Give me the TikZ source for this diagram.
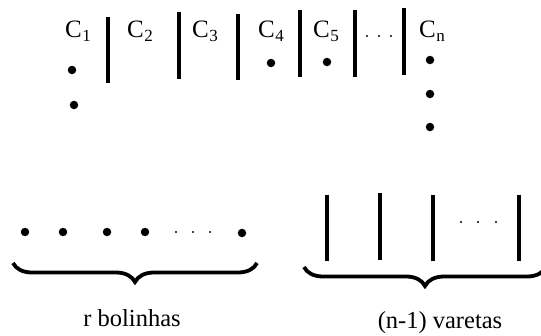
\documentclass[tikz,border=0pt]{standalone}
\usepackage{fontspec}
\setmainfont{Liberation Serif}
\usetikzlibrary{decorations.pathreplacing}
\newcommand{\cell}[1]{C\kern0.8pt\raisebox{-0.35ex}{\fontsize{17}{17}\selectfont #1}}
\tikzset{
  ball/.style={circle, fill=black, inner sep=0pt, minimum size=8.5pt},
  smalldot/.style={circle, fill=black, inner sep=0pt, minimum size=2.4pt},
  bar/.style={line width=4pt},
  lbl/.style={inner sep=0pt, font=\fontsize{25}{25}\selectfont},
  caption/.style={inner sep=0pt, font=\fontsize{24.5}{24.5}\selectfont},
  curly/.style={decorate, decoration={brace, mirror, amplitude=19pt}, line width=3.8pt},
}
\begin{document}
\begin{tikzpicture}[x=1pt, y=-1pt]
\useasboundingbox (0,0) rectangle (541,335);
% top row: cells and separating bars
\node[lbl] (c1) at (78,31) {\cell{1}};
\node[lbl] (c2) at (140,31) {\cell{2}};
\node[lbl] (c3) at (205,31) {\cell{3}};
\node[lbl] (c4) at (271,31) {\cell{4}};
\node[lbl] (c5) at (326,31) {\cell{5}};
\node[lbl] (cn) at (432,31) {\cell{n}};
\draw[bar] (108,17) -- (108,83);
\draw[bar] (179,12) -- (179,79);
\draw[bar] (238,14) -- (238,80);
\draw[bar] (300,10) -- (300,77);
\draw[bar] (355,10) -- (355,77);
\draw[bar] (404,8) -- (404,75);
\node[smalldot] (t1) at (367,36) {};
\node[smalldot] (t2) at (379,36) {};
\node[smalldot] (t3) at (391,36) {};
% balls in the cells
\node[ball] (a1) at (72,70) {};
\node[ball] (a2) at (74,105) {};
\node[ball] (a4) at (271,63) {};
\node[ball] (a5) at (327,62) {};
\node[ball] (an1) at (430,60) {};
\node[ball] (an2) at (430,94) {};
\node[ball] (an3) at (430,127) {};
% bottom left: the r balls
\node[ball] (b1) at (25,232) {};
\node[ball] (b2) at (63,232) {};
\node[ball] (b3) at (107,232) {};
\node[ball] (b4) at (145,232) {};
\node[smalldot] (d1) at (176,232) {};
\node[smalldot] (d2) at (193,232) {};
\node[smalldot] (d3) at (210,232) {};
\node[ball] (b5) at (242,233) {};
\draw[curly] (13,263) -- (257,263);
\node[caption] (rb) at (132,318) {r bolinhas};
% bottom right: the n-1 bars
\draw[bar] (327,195) -- (327,261);
\draw[bar] (380,193) -- (380,260);
\draw[bar] (433,195) -- (433,261);
\draw[bar] (519,195) -- (519,261);
\node[smalldot] (e1) at (461,222) {};
\node[smalldot] (e2) at (478,222) {};
\node[smalldot] (e3) at (496,222) {};
\draw[curly] (304,267) -- (546,267);
\node[caption] (nv) at (440,323) {(n-1) varetas};
\end{tikzpicture}
\end{document}
